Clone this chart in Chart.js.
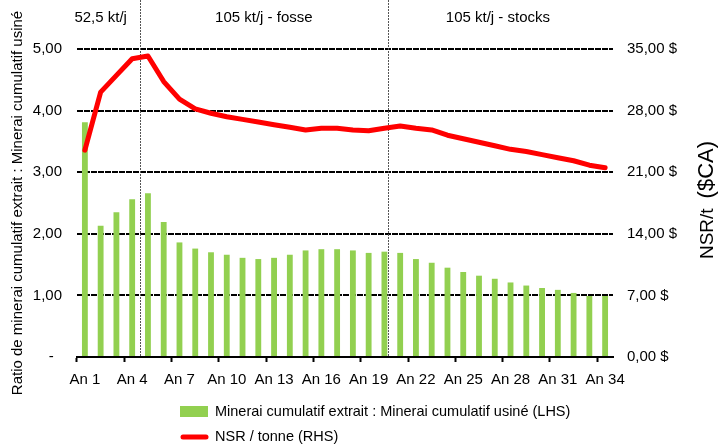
<!DOCTYPE html>
<html>
<head>
<meta charset="utf-8">
<script src="https://cdn.jsdelivr.net/npm/chart.js@4/dist/chart.umd.min.js"></script>
<style>
  html, body { margin: 0; padding: 0; background: #fff; }
  #wrap { width: 721px; height: 447px; }
</style>
</head>
<body>
<div id="wrap"><canvas id="c" width="721" height="447"></canvas></div>
<script>
// Years of the mine plan
const years = ['An 1','An 2','An 3','An 4','An 5','An 6','An 7','An 8','An 9','An 10',
  'An 11','An 12','An 13','An 14','An 15','An 16','An 17','An 18','An 19','An 20',
  'An 21','An 22','An 23','An 24','An 25','An 26','An 27','An 28','An 29','An 30',
  'An 31','An 32','An 33','An 34'];

// Cumulative ore mined : cumulative ore milled (left axis)
const ratioMinedMilled = [3.81, 2.13, 2.35, 2.56, 2.66, 2.19, 1.86, 1.76, 1.70, 1.66,
  1.61, 1.59, 1.61, 1.66, 1.73, 1.75, 1.75, 1.73, 1.69, 1.71,
  1.69, 1.59, 1.53, 1.45, 1.38, 1.32, 1.27, 1.21, 1.16, 1.12,
  1.09, 1.04, 0.99, 0.99];

// NSR per tonne, $CA (right axis)
const nsrPerTonne = [23.5, 30.1, 32.0, 33.9, 34.2, 31.3, 29.3, 28.2, 27.7, 27.3,
  27.0, 26.7, 26.4, 26.1, 25.8, 26.0, 26.0, 25.8, 25.7, 26.0,
  26.25, 26.0, 25.8, 25.2, 24.8, 24.4, 24.0, 23.6, 23.35, 23.0,
  22.65, 22.3, 21.8, 21.5];

// Mill feed phases: boundaries (in year-index units) and their captions
const phaseBreaks = [3.5, 19.2];
const phaseLabels = ['52,5 kt/j', '105 kt/j - fosse', '105 kt/j - stocks'];
const phaseLabelAt = [1.0, 11.35, 26.2];

const seriesNames = ['Minerai cumulatif extrait : Minerai cumulatif usiné (LHS)', 'NSR / tonne (RHS)'];
const GREEN = '#92D050';
const RED = '#FF0000';
const FONT = '"Liberation Sans", Arial, Helvetica, sans-serif';

Chart.defaults.font.family = FONT;
Chart.defaults.font.size = 15;
Chart.defaults.color = '#000';

const fmtComma = (v, d) => v.toFixed(d).replace('.', ',');

const decorations = {
  id: 'decorations',
  beforeDatasetsDraw(chart) {
    const { ctx, chartArea, scales: { x } } = chart;
    ctx.save();
    ctx.strokeStyle = '#555';
    ctx.lineWidth = 1;
    ctx.setLineDash([2, 1]);
    phaseBreaks.forEach(b => {
      const px = Math.round(x.getPixelForValue(b)) + 0.5;
      ctx.beginPath();
      ctx.moveTo(px, 0);
      ctx.lineTo(px, chartArea.bottom);
      ctx.stroke();
    });
    ctx.restore();
  },
  afterDraw(chart) {
    const { ctx, scales: { x } } = chart;
    ctx.save();
    // phase captions above the plot
    ctx.fillStyle = '#000';
    ctx.font = '15px ' + FONT;
    ctx.textAlign = 'center';
    ctx.textBaseline = 'middle';
    phaseLabels.forEach((t, i) => ctx.fillText(t, x.getPixelForValue(phaseLabelAt[i]), 18));

    // right axis title, read bottom to top
    ctx.save();
    ctx.translate(713, 200);
    ctx.rotate(-Math.PI / 2);
    ctx.textBaseline = 'alphabetic';
    ctx.textAlign = 'left';
    const f1 = '19px ' + FONT, f2 = '22px ' + FONT;
    ctx.font = f1; const w1 = ctx.measureText('NSR/t').width;
    ctx.font = f2; const w2 = ctx.measureText('($CA)').width;
    const gap = 10;
    const start = -(w1 + gap + w2) / 2;
    ctx.font = f1; ctx.fillText('NSR/t', start, 0);
    ctx.font = f2; ctx.fillText('($CA)', start + w1 + gap, 0);
    ctx.restore();

    // legend
    ctx.font = '14.5px ' + FONT;
    ctx.textAlign = 'left';
    ctx.textBaseline = 'middle';
    ctx.fillStyle = GREEN;
    ctx.fillRect(180, 406, 28, 11);
    ctx.fillStyle = '#000';
    ctx.fillText(seriesNames[0], 215, 412);
    ctx.strokeStyle = RED;
    ctx.lineWidth = 5;
    ctx.lineCap = 'round';
    ctx.beginPath();
    ctx.moveTo(183, 437);
    ctx.lineTo(206, 437);
    ctx.stroke();
    ctx.fillText(seriesNames[1], 215, 437);
    ctx.restore();
  }
};

new Chart(document.getElementById('c'), {
  type: 'bar',
  data: {
    labels: years,
    datasets: [
      {
        type: 'line',
        label: seriesNames[1],
        data: nsrPerTonne,
        yAxisID: 'y2',
        borderColor: RED,
        backgroundColor: RED,
        borderWidth: 5,
        pointRadius: 0,
        tension: 0,
        borderJoinStyle: 'round',
        borderCapStyle: 'round',
        order: 0
      },
      {
        type: 'bar',
        label: seriesNames[0],
        data: ratioMinedMilled,
        yAxisID: 'y',
        backgroundColor: GREEN,
        borderWidth: 0,
        barPercentage: 0.37,
        categoryPercentage: 1,
        order: 1
      }
    ]
  },
  options: {
    responsive: false,
    animation: false,
    devicePixelRatio: 1,
    layout: { padding: { top: 49, left: 0, right: 0, bottom: 0 } },
    plugins: { legend: { display: false }, tooltip: { enabled: false } },
    scales: {
      x: {
        offset: true,
        grid: {
          offset: true,
          drawOnChartArea: false,
          drawTicks: true,
          tickLength: 5,
          tickWidth: 2,
          tickColor: c => (c.index % 3 === 0 ? '#000' : 'rgba(0,0,0,0)')
        },
        border: { display: true, color: '#000', width: 2 },
        ticks: {
          autoSkip: false,
          maxRotation: 0,
          minRotation: 0,
          padding: 9,
          font: { size: 15 },
          callback: (v, i) => (i % 3 === 0 ? years[i] : '')
        },
        afterFit: s => { s.height = 90; }
      },
      y: {
        position: 'left',
        min: 0,
        max: 5,
        grid: { color: '#000', lineWidth: 2, drawTicks: false },
        border: { display: false, dash: [6, 1] },
        ticks: {
          stepSize: 1,
          padding: 15,
          font: { size: 15 },
          callback: v => (v === 0 ? '-  ' : fmtComma(v, 2))
        },
        title: {
          display: true,
          text: 'Ratio de minerai cumulatif extrait : Minerai cumulatif usiné',
          font: { size: 15 },
          padding: { top: 9, bottom: 0 }
        },
        afterFit: s => { s.width = 77; }
      },
      y2: {
        position: 'right',
        min: 0,
        max: 35,
        grid: { drawOnChartArea: false, drawTicks: false },
        border: { display: false },
        ticks: {
          stepSize: 7,
          padding: 14,
          crossAlign: 'near',
          font: { size: 15 },
          callback: v => fmtComma(v, 2) + ' $'
        },
        afterFit: s => { s.width = 108; }
      }
    }
  },
  plugins: [decorations]
});
</script>
</body>
</html>
